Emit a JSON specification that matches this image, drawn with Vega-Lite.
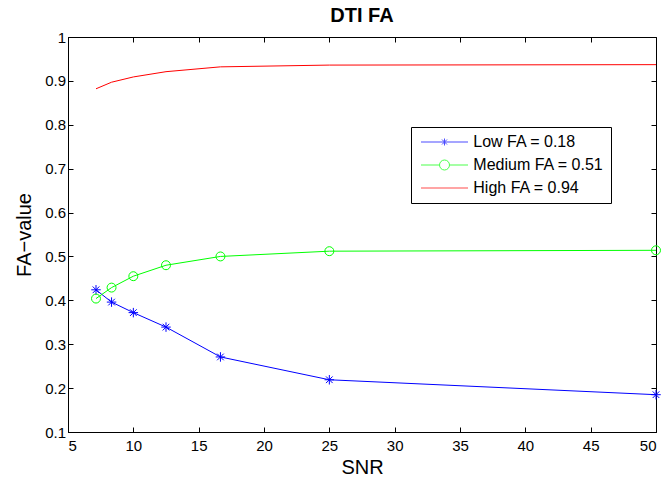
{
  "$schema": "https://vega.github.io/schema/vega-lite/v6.json",
  "width": 588,
  "height": 395,
  "autosize": "none",
  "padding": {"left": 68, "top": 37, "right": 10, "bottom": 49},
  "background": "white",
  "config": {
    "font": "Liberation Sans",
    "view": {"stroke": "black", "strokeWidth": 1},
    "axis": {
      "grid": false,
      "domainColor": "black",
      "tickColor": "black",
      "labelColor": "black",
      "titleColor": "black",
      "labelFont": "Liberation Sans",
      "titleFont": "Liberation Sans",
      "labelFontSize": 15,
      "titleFontSize": 20,
      "titleFontWeight": "normal",
      "tickSize": -5
    }
  },
  "title": {"text": "DTI FA", "fontSize": 20, "fontWeight": "bold", "font": "Liberation Sans", "offset": 4, "color": "black"},
  "data": {
    "values": [
      {"series": "Low FA = 0.18", "snr": 7.142857, "fa": 0.424},
      {"series": "Low FA = 0.18", "snr": 8.333333, "fa": 0.396},
      {"series": "Low FA = 0.18", "snr": 10, "fa": 0.372},
      {"series": "Low FA = 0.18", "snr": 12.5, "fa": 0.339},
      {"series": "Low FA = 0.18", "snr": 16.666667, "fa": 0.271},
      {"series": "Low FA = 0.18", "snr": 25, "fa": 0.219},
      {"series": "Low FA = 0.18", "snr": 50, "fa": 0.185},
      {"series": "Medium FA = 0.51", "snr": 7.142857, "fa": 0.404},
      {"series": "Medium FA = 0.51", "snr": 8.333333, "fa": 0.429},
      {"series": "Medium FA = 0.51", "snr": 10, "fa": 0.455},
      {"series": "Medium FA = 0.51", "snr": 12.5, "fa": 0.480},
      {"series": "Medium FA = 0.51", "snr": 16.666667, "fa": 0.500},
      {"series": "Medium FA = 0.51", "snr": 25, "fa": 0.512},
      {"series": "Medium FA = 0.51", "snr": 50, "fa": 0.514},
      {"series": "High FA = 0.94", "snr": 7.142857, "fa": 0.882},
      {"series": "High FA = 0.94", "snr": 8.333333, "fa": 0.897},
      {"series": "High FA = 0.94", "snr": 10, "fa": 0.909},
      {"series": "High FA = 0.94", "snr": 12.5, "fa": 0.921},
      {"series": "High FA = 0.94", "snr": 16.666667, "fa": 0.932},
      {"series": "High FA = 0.94", "snr": 25, "fa": 0.936},
      {"series": "High FA = 0.94", "snr": 50, "fa": 0.937}
    ]
  },
  "layer": [
    {
      "mark": {"type": "line", "strokeWidth": 1},
      "encoding": {
        "x": {"field": "snr", "type": "quantitative", "scale": {"domain": [5, 50], "nice": false, "zero": false},
              "axis": {"title": "SNR", "values": [5,10,15,20,25,30,35,40,45,50], "labelPadding": 11, "titlePadding": 4}},
        "y": {"field": "fa", "type": "quantitative", "scale": {"domain": [0.1, 1], "nice": false, "zero": false},
              "axis": {"title": "FA−value", "values": [0.1,0.2,0.3,0.4,0.5,0.6,0.7,0.8,0.9,1], "format": "~g", "labelPadding": 7.5, "titlePadding": 10}},
        "color": {"field": "series", "type": "nominal",
                  "scale": {"domain": ["Low FA = 0.18", "Medium FA = 0.51", "High FA = 0.94"], "range": ["#0000ff", "#00ff00", "#ff0000"]},
                  "legend": null}
      }
    },
    {
      "transform": [{"filter": "datum.series == 'Low FA = 0.18'"}],
      "mark": {"type": "point", "shape": "M-1,0H1M0,-1V1M-0.7,-0.7L0.7,0.7M-0.7,0.7L0.7,-0.7", "size": 90, "stroke": "#0000ff", "strokeWidth": 1, "filled": false, "opacity": 1},
      "encoding": {
        "x": {"field": "snr", "type": "quantitative", "axis": {"orient": "top", "values": [5,10,15,20,25,30,35,40,45,50], "labels": false, "title": null, "domain": false}},
        "y": {"field": "fa", "type": "quantitative", "axis": {"orient": "right", "values": [0.1,0.2,0.3,0.4,0.5,0.6,0.7,0.8,0.9,1], "labels": false, "title": null, "domain": false}}
      }
    },
    {
      "transform": [{"filter": "datum.series == 'Medium FA = 0.51'"}],
      "mark": {"type": "point", "shape": "circle", "size": 80, "stroke": "#00ff00", "strokeWidth": 1, "filled": false, "opacity": 1},
      "encoding": {
        "x": {"field": "snr", "type": "quantitative", "axis": null},
        "y": {"field": "fa", "type": "quantitative", "axis": null}
      }
    },
    {
      "transform": [{"filter": "datum.series == 'none'"}],
      "mark": {"type": "point", "filled": false, "strokeWidth": 1},
      "encoding": {
        "x": {"field": "snr", "type": "quantitative", "axis": null},
        "y": {"field": "fa", "type": "quantitative", "axis": null},
        "color": {"field": "series", "type": "nominal",
                  "scale": {"domain": ["Low FA = 0.18", "Medium FA = 0.51", "High FA = 0.94"], "range": ["#0000ff", "#00ff00", "#ff0000"]}},
        "shape": {"field": "series", "type": "nominal",
                  "scale": {"domain": ["Low FA = 0.18", "Medium FA = 0.51", "High FA = 0.94"],
                            "range": [
                              "M-11.75,0H11.75M0,-1.75V1.75M-1.25,-1.25L1.25,1.25M-1.25,1.25L1.25,-1.25",
                              "M-11.75,0H-2.5M2.5,0H11.75M-2.5,0A2.5,2.5 0 1,1 2.5,0A2.5,2.5 0 1,1 -2.5,0",
                              "M-11.75,0H11.75"
                            ]},
                  "legend": {
                    "title": null,
                    "orient": "none",
                    "legendX": 343,
                    "legendY": 90,
                    "strokeColor": "black",
                    "fillColor": "white",
                    "padding": 7,
                    "symbolSize": 16,
                    "symbolOffset": 18.5,
                    "symbolStrokeWidth": 1,
                    "symbolFillColor": "transparent",
                    "labelFont": "Liberation Sans",
                    "labelFontSize": 16,
                    "labelColor": "black",
                    "labelOffset": 20.8,
                    "labelExpr": "datum.label + '\u00a0\u00a0'",
                    "rowPadding": 7
                  }}
      }
    }
  ],
  "resolve": {
    "scale": {"color": "independent", "shape": "independent"},
    "axis": {"x": "independent", "y": "independent"}
  }
}
